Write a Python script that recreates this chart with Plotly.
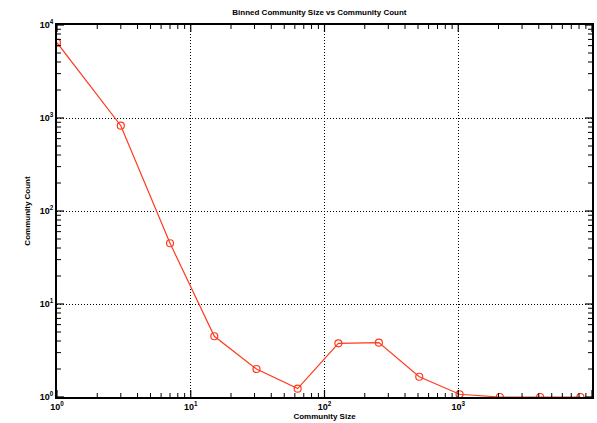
import plotly.graph_objects as go

community_size = [1, 3, 7, 15, 31, 63, 127, 255, 511, 1023, 2047, 4095, 8191]
community_count = [6450, 826, 45, 4.5, 2.0, 1.23, 3.78, 3.84, 1.65, 1.07, 1.0, 1.0, 1.0]

tick_vals = [1, 10, 100, 1000, 10000]
tick_text = ["10<sup>0</sup>", "10<sup>1</sup>", "10<sup>2</sup>", "10<sup>3</sup>", "10<sup>4</sup>"]
minor_vals = [m * d for d in [1, 10, 100, 1000] for m in range(2, 10)]

color = "#ff3a1f"
font_family = "Liberation Sans, Arial, sans-serif"

fig = go.Figure()
fig.add_trace(go.Scatter(
    x=community_size, y=community_count, mode="lines+markers",
    line=dict(color=color, width=1.2),
    marker=dict(symbol="circle-open", size=7, color=color, line=dict(width=1.2, color=color)),
    showlegend=False,
))

axis_common = dict(
    type="log",
    showline=True, linecolor="black", linewidth=2, mirror=True,
    ticks="", showgrid=True, gridcolor="black", gridwidth=1, griddash="1px,2px",
    zeroline=False,
    tickmode="array", tickvals=tick_vals, ticktext=tick_text,
    tickfont=dict(family=font_family, size=9, color="black", weight="bold"),
)

# tick marks drawn as pixel-length segments anchored at the tick values on every edge
shapes = []
for vals, length, width in [(tick_vals, 7, 1.2), (minor_vals, 4, 1)]:
    for v in vals:
        ln = dict(color="black", width=width)
        # bottom and top edges
        shapes.append(dict(type="line", layer="above", xref="x", yref="paper", ysizemode="pixel",
                           yanchor=0, x0=v, x1=v, y0=0, y1=length, line=ln))
        shapes.append(dict(type="line", layer="above", xref="x", yref="paper", ysizemode="pixel",
                           yanchor=1, x0=v, x1=v, y0=0, y1=-length, line=ln))
        # left and right edges
        shapes.append(dict(type="line", layer="above", yref="y", xref="paper", xsizemode="pixel",
                           xanchor=0, y0=v, y1=v, x0=0, x1=length, line=ln))
        shapes.append(dict(type="line", layer="above", yref="y", xref="paper", xsizemode="pixel",
                           xanchor=1, y0=v, y1=v, x0=0, x1=-length, line=ln))

fig.update_layout(
    xaxis=dict(axis_common, range=[0, 4],
               title=dict(text="Community Size", font=dict(family=font_family, size=8, color="black", weight="bold"), standoff=2)),
    yaxis=dict(axis_common, range=[0, 4],
               title=dict(text="Community Count", font=dict(family=font_family, size=8, color="black", weight="bold"), standoff=8)),
    shapes=shapes,
    width=597, height=423,
    margin=dict(l=57, r=5, t=25, b=26, autoexpand=False),
    paper_bgcolor="white", plot_bgcolor="white",
    title=dict(text="Binned Community Size vs Community Count", x=0.535, xanchor="center", y=0.972, yanchor="middle",
               font=dict(family=font_family, size=8, color="black", weight="bold")),
)

fig.write_html("out.html", config={"displayModeBar": False},
               post_script="document.body.style.margin='0';")
